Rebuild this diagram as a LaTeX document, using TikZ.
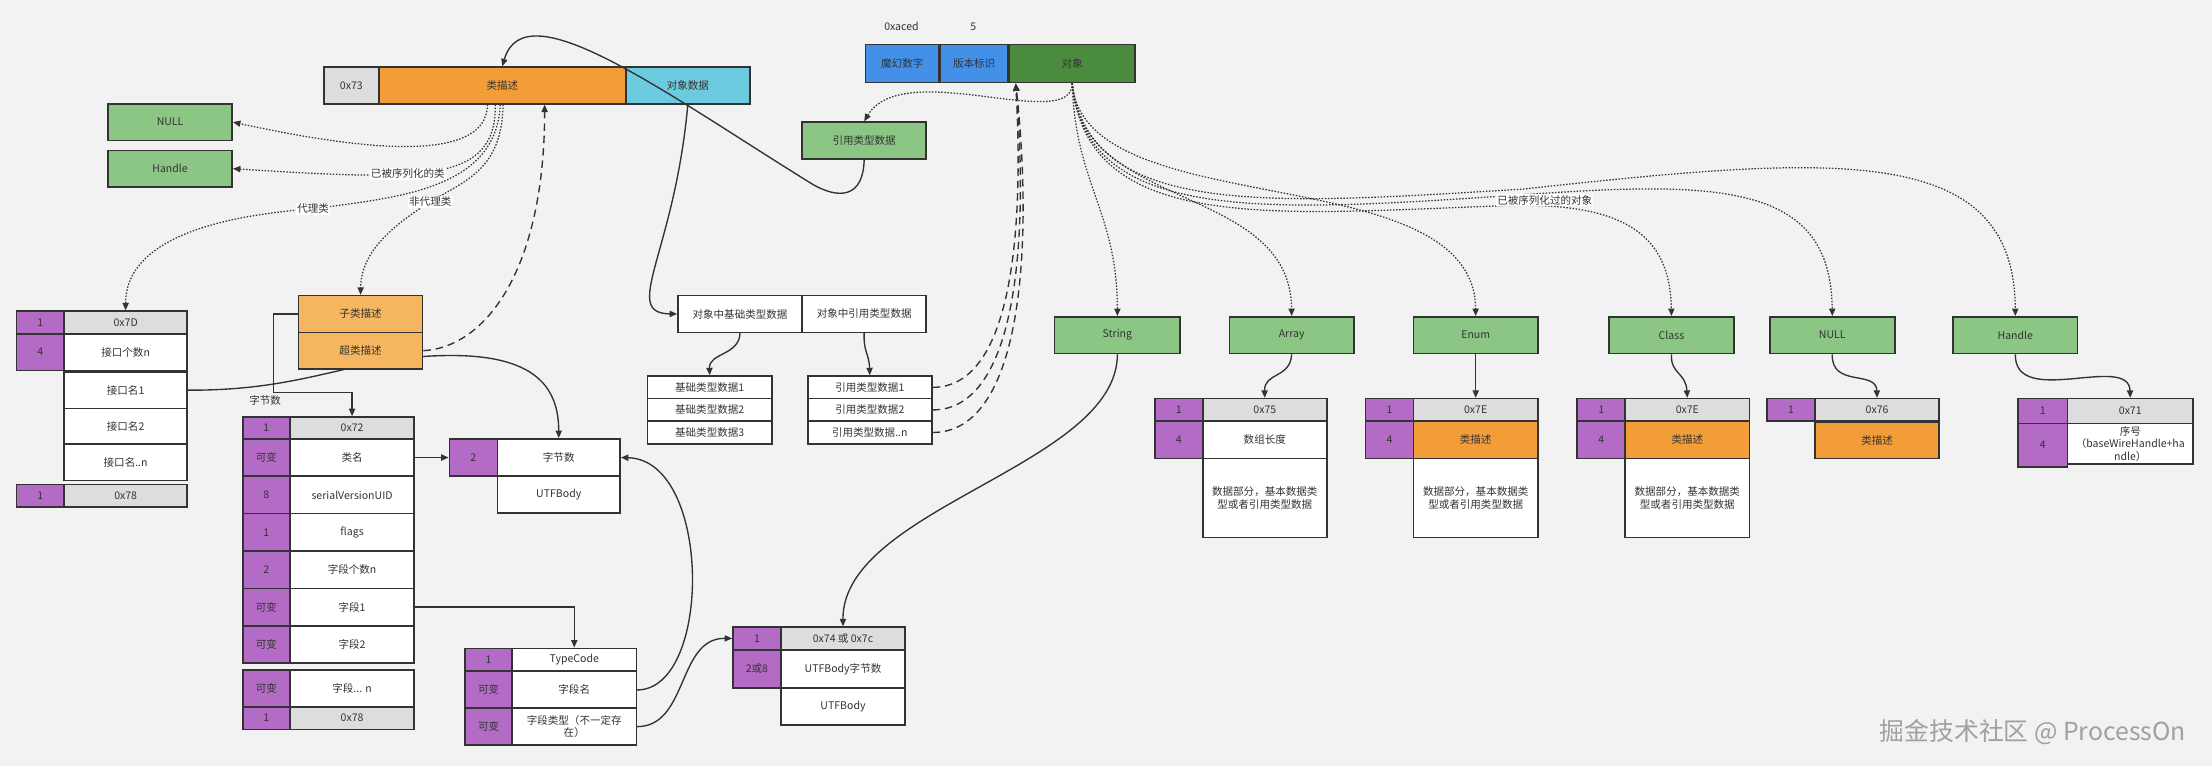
\documentclass[tikz,border=0pt]{standalone}
\usepackage{fontspec}
\setmainfont{Noto Sans CJK SC}
\usetikzlibrary{arrows.meta}

\definecolor{bgc}{HTML}{F2F2F2}
\definecolor{linec}{HTML}{333333}
\definecolor{greyc}{HTML}{DDDDDD}
\definecolor{purp}{HTML}{B46BC5}
\definecolor{orng}{HTML}{F29D38}
\definecolor{lorng}{HTML}{F5B65F}
\definecolor{cyanc}{HTML}{6DCBDF}
\definecolor{grn}{HTML}{8CC685}
\definecolor{dgrn}{HTML}{4A8B3E}
\definecolor{blu}{HTML}{4290E8}
\definecolor{wmc}{HTML}{A0A0A0}

\pgfdeclarelayer{bg}
\pgfdeclarelayer{back}
\pgfsetlayers{bg,back,main}

\begin{document}
\begin{tikzpicture}[
    x=0.04cm, y=-0.04cm, >={Triangle[length=6pt,width=5pt]},
    font=\fontsize{8.5}{10}\selectfont, text=linec,
    cell/.style 2 args={draw=linec, line width=1.3pt, anchor=north west,
                        inner sep=1pt, align=center,
                        minimum width=#1*0.04cm, minimum height=#2*0.04cm},
    conn/.style={->, draw=linec, line width=1.1pt},
    dotln/.style={->, draw=linec, line width=1pt, dash pattern=on 1.2pt off 1.3pt},
    dashln/.style={->, draw=linec, line width=1.1pt, dash pattern=on 6pt off 4pt},
    lbl/.style={fill=white, inner sep=1pt}
  ]
  \useasboundingbox (0,0) rectangle (1568,543);
  \begin{pgfonlayer}{bg}
    \fill[bgc] (0,0) rectangle (1568,543);
  \end{pgfonlayer}

  % Class descriptor
  \node[cell={39}{26}, fill=greyc] (c73) at (229,47) {0x73};
  \node[cell={175}{26}, fill=orng] (cdesc) at (268,47) {类描述};
  \node[cell={88}{26}, fill=cyanc] (cdata) at (443,47) {对象数据};
  \node[cell={88}{26}, fill=grn] (nullL) at (76,73) {NULL};
  \node[cell={88}{26}, fill=grn] (hdlL) at (76,106) {Handle};

  % Stream header
  \node[cell={52}{27}, fill=blu] (magic) at (613,31) {魔幻数字};
  \node[cell={48}{27}, fill=blu] (ver) at (666,31) {版本标识};
  \node[cell={89}{27}, fill=dgrn] (obj) at (715,31) {对象};
  \node (lmagic) at (639,19) {0xaced};
  \node (lver) at (690,19) {5};
  \node[cell={88}{26}, fill=grn] (refd) at (568,86) {引用类型数据};

  % Proxy class
  \node[cell={34}{16}, fill=purp] (px1) at (11,220) {1};
  \node[cell={87}{16}, fill=greyc] (px1v) at (45,220) {0x7D};
  \node[cell={34}{26}, fill=purp] (px4) at (11,236) {4};
  \node[cell={87}{26}, fill=white] (px4v) at (45,236) {接口个数n};
  \node[cell={87}{26}, fill=white] (pxn1) at (45,263) {接口名1};
  \node[cell={87}{25}, fill=white] (pxn2) at (45,289) {接口名2};
  \node[cell={87}{26}, fill=white] (pxnn) at (45,314) {接口名..n};
  \node[cell={34}{16}, fill=purp] (pxe) at (11,343) {1};
  \node[cell={87}{16}, fill=greyc] (pxev) at (45,343) {0x78};

  % Sub / super class
  \node[cell={88}{26}, fill=lorng] (sub) at (211,209) {子类描述};
  \node[cell={88}{26}, fill=lorng] (sup) at (211,235) {超类描述};

  % Non-proxy class 0x72
  \node[cell={33.5}{15.5}, fill=purp] (k1) at (171.5,295) {1};
  \node[cell={88}{15.5}, fill=greyc] (k1v) at (205,295) {0x72};
  \foreach \nm/\py/\ta/\tb in {k2/310.5/可变/类名, k3/337/8/serialVersionUID,
                               k4/363.5/1/flags, k5/390/2/字段个数n,
                               k6/416.5/可变/字段1, k7/443/可变/字段2} {
    \node[cell={33.5}{26.5}, fill=purp] (\nm) at (171.5,\py) {\ta};
    \node[cell={88}{26.5}, fill=white] (\nm-v) at (205,\py) {\tb};
  }
  \node[cell={33.5}{26}, fill=purp] (k8) at (171.5,474.5) {可变};
  \node[cell={88}{26}, fill=white] (k8-v) at (205,474.5) {字段... n};
  \node[cell={33.5}{16}, fill=purp] (k9) at (171.5,500.5) {1};
  \node[cell={88}{16}, fill=greyc] (k9-v) at (205,500.5) {0x78};
  \node (lbytes) at (188,284) {字节数};

  % UTF string
  \node[cell={34}{26.5}, fill=purp] (u1) at (318,310.5) {2};
  \node[cell={87}{26.5}, fill=white] (u1v) at (352,310.5) {字节数};
  \node[cell={87}{26}, fill=white] (u2v) at (352,337) {UTFBody};

  % Field
  \node[cell={33.5}{16}, fill=purp] (t1) at (329,459) {1};
  \node[cell={88}{16}, fill=white] (t1v) at (362.5,459) {TypeCode};
  \node[cell={33.5}{26}, fill=purp] (t2) at (329,475.5) {可变};
  \node[cell={88}{26}, fill=white] (t2v) at (362.5,475.5) {字段名};
  \node[cell={33.5}{26}, fill=purp] (t3) at (329,501.5) {可变};
  \node[cell={88}{26}, fill=white] (t3v) at (362.5,501.5) {字段类型（不一定存\\在）};

  % String 0x74
  \node[cell={34}{16}, fill=purp] (s1) at (519,444) {1};
  \node[cell={88}{16}, fill=greyc] (s1v) at (553,444) {0x74 或 0x7c};
  \node[cell={34}{27}, fill=purp] (s2) at (519,460) {2或8};
  \node[cell={88}{27}, fill=white] (s2v) at (553,460) {UTFBody字节数};
  \node[cell={88}{26.5}, fill=white] (s3v) at (553,487) {UTFBody};

  % Object data
  \node[cell={88}{26}, fill=white] (ob) at (480,209) {对象中基础类型数据};
  \node[cell={88}{26}, fill=white] (or) at (568,209) {对象中引用类型数据};
  \foreach \i/\py in {1/266, 2/282, 3/298}
    \node[cell={88}{16}, fill=white] (b\i) at (458.5,\py) {基础类型数据\i};
  \node[cell={88}{16}, fill=white] (r1) at (572,266) {引用类型数据1};
  \node[cell={88}{16}, fill=white] (r2) at (572,282) {引用类型数据2};
  \node[cell={88}{16}, fill=white] (r3) at (572,298) {引用类型数据..n};

  % Object kinds
  \foreach \nm/\px/\w/\tx in {str/747/89/String, arr/871/88/Array, enm/1001.5/88/Enum,
                              cls/1140/88.5/Class, nul/1254/88.5/NULL, hdl/1384/88/Handle}
    \node[cell={\w}{26}, fill=grn] (\nm) at (\px,224) {\tx};

  \foreach \nm/\px/\tx/\md/\fc in {a/818/0x75/数组长度/white, e/967.5/0x7E/类描述/orng,
                                   c/1117.5/0x7E/类描述/orng} {
    \node[cell={34}{16}, fill=purp] (\nm1) at (\px,282) {1};
    \node[cell={88}{16}, fill=greyc] (\nm1v) at (\px+34,282) {\tx};
    \node[cell={34}{26.5}, fill=purp] (\nm2) at (\px,298) {4};
    \node[cell={88}{26.5}, fill=\fc] (\nm2v) at (\px+34,298) {\md};
    \node[cell={88}{56}, fill=white] (\nm3v) at (\px+34,324.5)
      {数据部分，基本数据类\\型或者引用类型数据};
  }
  \node[cell={34}{16}, fill=purp] (n1) at (1252,282) {1};
  \node[cell={88}{16}, fill=greyc] (n1v) at (1286,282) {0x76};
  \node[cell={88}{26}, fill=orng] (n2v) at (1286,298.5) {类描述};
  \node[cell={35}{17.5}, fill=purp] (h1) at (1430,282) {1};
  \node[cell={89}{17.5}, fill=greyc] (h1v) at (1465,282) {0x71};
  \node[cell={35}{31}, fill=purp] (h2) at (1430,299.5) {4};
  \node[cell={89}{29}, fill=white] (h2v) at (1465,299.5)
    {序号\\（baseWireHandle+ha\\ndle）};

  \node[font=\fontsize{20}{22}\selectfont, text=wmc] (wm) at (1441,519)
    {掘金技术社区 @ ProcessOn};

  % Connectors
  \draw[conn] (refd.south) .. controls (612,140) and (595,142) .. (575,130)
    .. controls (470,65) and (372,-8) .. (cdesc.north);
  \draw[conn] (cdata.south) .. controls (478,180) and (440,222) .. (ob.west);
  \draw[conn] (ob.south) .. controls (524,252) and (502.5,250) .. (b1.north);
  \draw[conn] (or.south) .. controls (612,250) and (616,250) .. (r1.north);
  \foreach \r/\a/\b in {r1/55/6, r2/60/9, r3/65/12}
    \draw[dashln] (\r.east) .. controls +(\a,0) and +(\b,110)
      .. ([xshift=0.2cm]obj.south west);
  \draw[dashln] (sup.east) .. controls (345,246) and (386,190)
    .. ([xshift=1.2cm]cdesc.south);

  \draw[dotln] ([xshift=-0.42cm]cdesc.south) .. controls (345,118) and (250,105)
    .. (nullL.east);
  \draw[dotln] ([xshift=-0.2cm]cdesc.south) .. controls (352,130) and (300,128)
    .. (hdlL.east) node[lbl, pos=0.6] (lcls) {已被序列化的类};
  \draw[dotln] ([xshift=-0.06cm]cdesc.south) .. controls (352,135) and (280,140)
    .. (222,148) node[lbl] (lprx) {代理类}
    .. controls (140,154) and (89,175) .. (px1v.north);
  \draw[dotln] ([xshift=0.02cm]cdesc.south) .. controls (356,120) and (330,128)
    .. (305,143) node[lbl] (lnpx) {非代理类}
    .. controls (275,162) and (256,180) .. (sub.north);

  \draw[dotln] (obj.south) .. controls (760,95) and (640,40) .. (refd.north);
  \draw[dotln] (obj.south) .. controls (762,130) and (792,150) .. (str.north);
  \draw[dotln] (obj.south) .. controls (765,150) and (915,130) .. (arr.north);
  \draw[dotln] (obj.south) .. controls (768,160) and (1045,110) .. (enm.north);
  \draw[dotln] (obj.south) .. controls (770,165) and (900,152) .. (1060,146)
    .. controls (1150,142) and (1184,165) .. (cls.north);
  \draw[dotln] (obj.south) .. controls (770,160) and (900,150) .. (1080,138)
    .. controls (1220,128) and (1298,130) .. (nul.north);
  \draw[dotln] (obj.south) .. controls (772,155) and (900,145) .. (1080,134)
    .. controls (1300,110) and (1428,100) .. (hdl.north);
  \node[lbl] (lobj) at (1095,142) {已被序列化过的对象};

  \draw[conn] (sub.west) -| (194,278) -| (k1v.north);
  \draw[conn] (k2-v.east) -- (u1.west);
  \draw[conn] (k6-v.east) -| (t1v.north);
  \draw[conn] (t2v.east) .. controls (505,489) and (505,326) .. (u1v.east);
  \draw[conn] (t3v.east) .. controls (488,515) and (480,452) .. (s1.west);
  \draw[conn] (str.south) .. controls (792,330) and (597,360) .. (s1v.north);
  \begin{pgfonlayer}{back}
    \draw[conn] (pxn1.east) .. controls (220,277) and (250,252) .. (320,252)
      .. controls (380,252) and (396,275) .. (u1v.north);
  \end{pgfonlayer}

  \draw[conn] (arr.south) .. controls (915,268) and (896,264) .. (a1v.north);
  \draw[conn] (enm.south) -- (e1v.north);
  \draw[conn] (cls.south) .. controls (1184,265) and (1195,264) .. (c1v.north);
  \draw[conn] (nul.south) .. controls (1298,275) and (1330,262) .. (n1v.north);
  \draw[conn] (hdl.south) .. controls (1428,290) and (1509,250) .. (h1v.north);
\end{tikzpicture}
\end{document}
